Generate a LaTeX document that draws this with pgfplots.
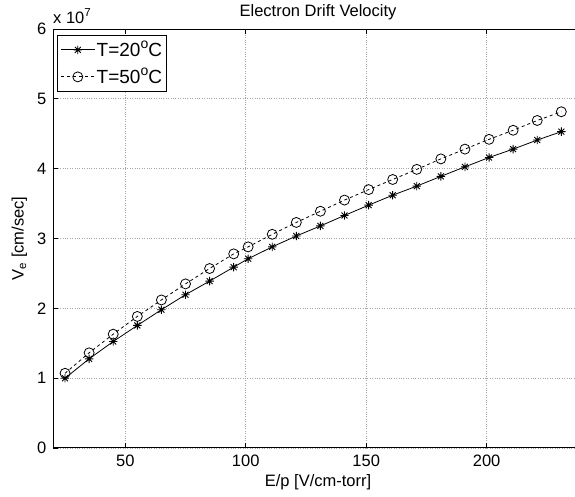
\documentclass[border=0pt]{standalone}
\usepackage{fontspec}
\setmainfont{Liberation Sans}
\usepackage{pgfplots}
\pgfplotsset{compat=1.18}

\pgfdeclareplotmark{mstar}{%
  \pgfpathmoveto{\pgfqpoint{-\pgfplotmarksize}{0pt}}%
  \pgfpathlineto{\pgfqpoint{\pgfplotmarksize}{0pt}}%
  \pgfpathmoveto{\pgfqpoint{0pt}{-\pgfplotmarksize}}%
  \pgfpathlineto{\pgfqpoint{0pt}{\pgfplotmarksize}}%
  \pgfpathmoveto{\pgfqpoint{-.707\pgfplotmarksize}{-.707\pgfplotmarksize}}%
  \pgfpathlineto{\pgfqpoint{.707\pgfplotmarksize}{.707\pgfplotmarksize}}%
  \pgfpathmoveto{\pgfqpoint{-.707\pgfplotmarksize}{.707\pgfplotmarksize}}%
  \pgfpathlineto{\pgfqpoint{.707\pgfplotmarksize}{-.707\pgfplotmarksize}}%
  \pgfusepathqstroke}

\pgfplotstableread{
x y
25 0.999
35 1.277
45 1.525
55 1.755
65 1.980
75 2.195
85 2.390
95 2.590
101 2.710
111 2.880
121 3.036
131 3.180
141 3.330
151 3.477
161 3.620
171 3.750
181 3.890
191 4.026
201 4.160
211 4.280
221 4.410
231 4.530
}\datatwenty

\pgfplotstableread{
x y
25 1.070
35 1.363
45 1.630
55 1.884
65 2.120
75 2.350
85 2.570
95 2.780
101 2.880
111 3.060
121 3.230
131 3.390
141 3.550
151 3.700
161 3.845
171 3.990
181 4.140
191 4.280
201 4.420
211 4.550
221 4.690
231 4.815
}\datafifty

\newcommand{\fs}{\fontsize{16.5}{19}\selectfont}
\newcommand{\fl}{\fontsize{19}{21}\selectfont}
\newcommand{\degsup}[1]{\raisebox{0.42em}{\fontsize{14}{14}\selectfont #1}}

\begin{document}
\fs
\begin{tikzpicture}
\begin{axis}[
  scale only axis,
  width=530pt, height=419pt,
  xmin=20, xmax=240, ymin=0, ymax=6,
  xtick={50,100,150,200},
  ytick={0,1,2,3,4,5,6},
  tick align=inside,
  major tick length=5pt,
  axis line style={line width=1pt},
  every tick/.style={black, line width=0.8pt},
  grid=major,
  major grid style={dotted, gray!70, line width=0.8pt},
  /pgf/number format/assume math mode=true,
  tick label style={font=\fs},
  label style={font=\fs},
  xticklabel style={yshift=-1pt},
  yticklabel style={xshift=-1pt},
  xlabel={E/p [V/cm-torr]},
  ylabel={V\textsubscript{e} [cm/sec]},
  xlabel style={yshift=3pt},
  ylabel style={yshift=-1pt},
  legend cell align=left,
  legend style={at={(0,1)}, anchor=north west, xshift=4pt, yshift=-6pt,
    draw=black, line width=0.8pt, inner xsep=3pt, inner ysep=2pt, row sep=2pt,
    font=\fl, nodes={inner xsep=1.5pt, inner ysep=3.5pt}},
  legend image code/.code={%
    \draw[mark repeat=2,mark phase=2] plot coordinates {(0pt,0pt) (17pt,0pt) (34pt,0pt)};},
  clip=false,
]
\addplot[black, line width=0.8pt, mark=mstar, mark size=4.2pt, mark options={solid, line width=0.9pt}] table[x=x,y=y] {\datatwenty};
\addlegendentry{T=20\degsup{o}C}
\addplot[black, dashed, line width=0.8pt, mark=o, mark size=5pt, mark options={solid, line width=0.8pt}] table[x=x,y=y] {\datafifty};
\addlegendentry{T=50\degsup{o}C}
\coordinate (O) at (rel axis cs:0,0);
\node[anchor=base, yshift=13pt, font=\fs] at (rel axis cs:0.5,1) {Electron Drift Velocity};
\node[anchor=base west, inner sep=0pt, yshift=6pt, font=\fs] at (rel axis cs:0,1) {x 10\textsuperscript{7}};
\end{axis}
\pgfresetboundingbox
\path[use as bounding box] ([xshift=-53pt,yshift=-49pt]O) rectangle ([xshift=522pt,yshift=448pt]O);
\end{tikzpicture}
\end{document}
